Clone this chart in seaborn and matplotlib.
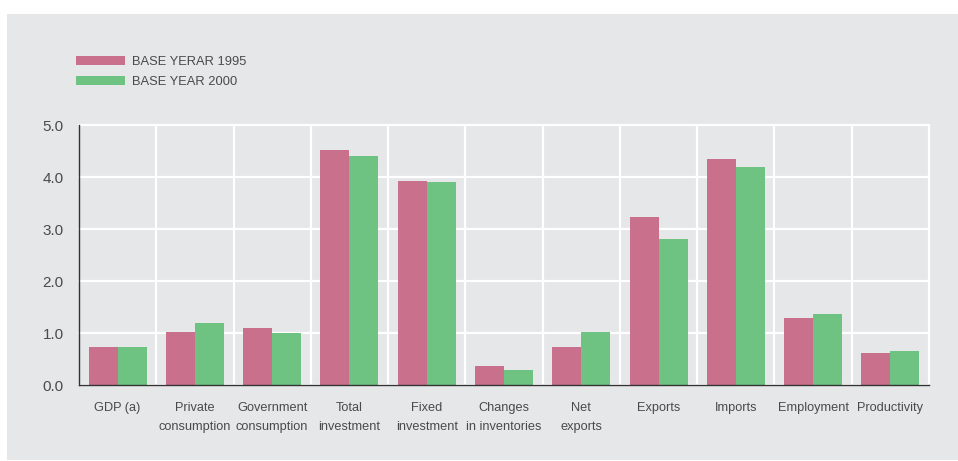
import matplotlib
matplotlib.use("Agg")
import matplotlib.pyplot as plt
import seaborn as sns
import pandas as pd
from matplotlib.patches import Rectangle

categories = ["GDP (a)", "Private\nconsumption", "Government\nconsumption", "Total\ninvestment",
              "Fixed\ninvestment", "Changes\nin inventories", "Net\nexports", "Exports",
              "Imports", "Employment", "Productivity"]
base_1995 = [0.73, 1.02, 1.10, 4.51, 3.93, 0.37, 0.73, 3.24, 4.34, 1.29, 0.62]
base_2000 = [0.73, 1.19, 1.00, 4.41, 3.91, 0.29, 1.02, 2.80, 4.20, 1.37, 0.66]
series_names = ["BASE YERAR 1995", "BASE YEAR 2000"]
yticks = [0.0, 1.0, 2.0, 3.0, 4.0, 5.0]

df = pd.DataFrame({
    "category": categories * 2,
    "value": base_1995 + base_2000,
    "series": [series_names[0]] * len(categories) + [series_names[1]] * len(categories),
})

BG = "#E6E7E9"
PINK = "#C9708C"
GREEN = "#6EC382"
TXT = "#4a4a4a"

sns.set_theme(style="white")
plt.rcParams["font.family"] = ["Liberation Sans", "DejaVu Sans"]

W, H = 958, 461
fig = plt.figure(figsize=(W / 100, H / 100), dpi=100, facecolor="white")
fig.patches.append(Rectangle((7 / W, 1 / H), 1 - 7 / W, 1 - 15 / H, transform=fig.transFigure,
                             facecolor=BG, edgecolor="none", zorder=-10))

ax = fig.add_axes([79 / W, 1 - 385 / H, (929 - 79) / W, (385 - 125) / H])
ax.set_facecolor(BG)

sns.barplot(data=df, x="category", y="value", hue="series", order=categories,
            hue_order=series_names, palette=[PINK, GREEN], width=0.75, saturation=1,
            errorbar=None, ax=ax, legend=False, zorder=3, linewidth=0, edgecolor="none")

ax.set_xlim(-0.5, len(categories) - 0.5)
ax.set_ylim(0, 5.0)
ax.set_yticks(yticks)
ax.set_yticklabels([f"{v:.1f}" for v in yticks])
ax.set_xticks(range(len(categories)))
ax.set_xticklabels(categories, linespacing=1.85)
ax.set_xticks([i + 0.5 for i in range(len(categories))], minor=True)

ax.grid(True, axis="y", which="major", color="white", linewidth=1.6, zorder=0)
ax.grid(True, axis="x", which="minor", color="white", linewidth=1.6, zorder=0)
ax.grid(False, axis="x", which="major")
for t in ax.yaxis.get_major_ticks() + ax.xaxis.get_minor_ticks():
    t.gridline.set_clip_on(False)

ax.set_axisbelow(True)
for s in ["top", "right"]:
    ax.spines[s].set_visible(False)
for s in ["left", "bottom"]:
    ax.spines[s].set_color("#333333")
    ax.spines[s].set_linewidth(1.0)
    ax.spines[s].set_zorder(4)

ax.tick_params(axis="y", which="both", length=0, labelsize=11, labelcolor=TXT, pad=11)
ax.tick_params(axis="x", which="both", length=0, labelsize=9.2, labelcolor=TXT, pad=12)
ax.set_xlabel("")
ax.set_ylabel("")

handles = [Rectangle((0, 0), 1, 1, facecolor=PINK, edgecolor="none", linewidth=0),
           Rectangle((0, 0), 1, 1, facecolor=GREEN, edgecolor="none", linewidth=0)]
fig.legend(handles, series_names, loc="upper left", bbox_to_anchor=(72 / W, 1 - 52 / H),
           frameon=False, fontsize=9.3, handlelength=3.8, handleheight=0.75,
           labelspacing=0.6, handletextpad=0.55, labelcolor=TXT, borderaxespad=0, borderpad=0.3)

fig.savefig("out.png", dpi=100, facecolor="white")
